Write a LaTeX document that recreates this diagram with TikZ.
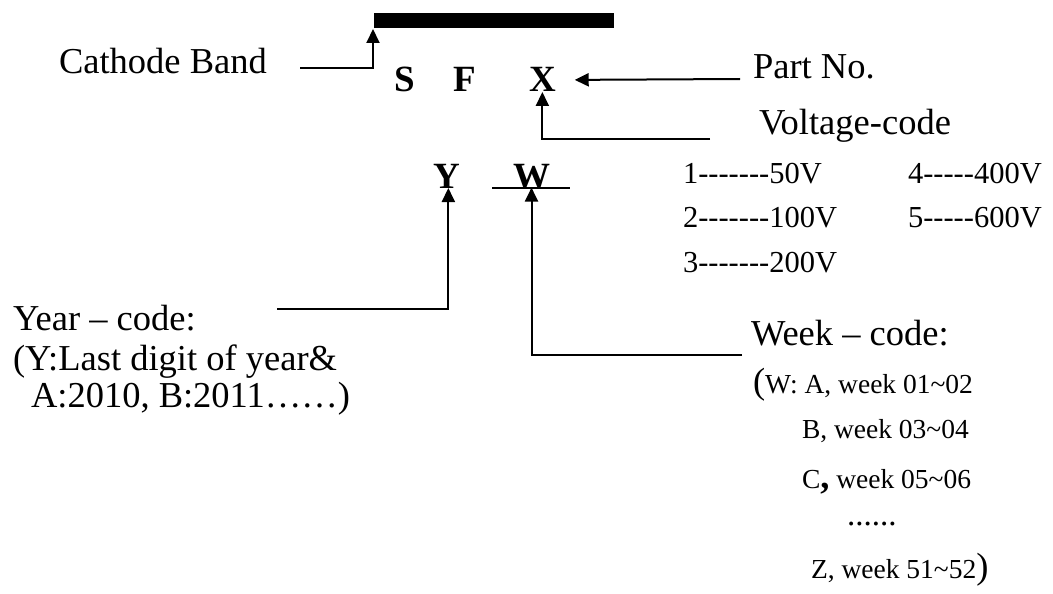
\documentclass[tikz,border=0pt]{standalone}
\usepackage{fontspec}
\setmainfont{Liberation Serif}
\usetikzlibrary{arrows.meta}

\begin{document}
\begin{tikzpicture}[x=1pt, y=-1pt, line width=2pt,
  every node/.style={anchor=base west, inner sep=0pt},
  big/.style={font=\fontsize{36.5}{40}\selectfont},
  mid/.style={font=\fontsize{30.5}{34}\selectfont},
  small/.style={font=\fontsize{27.5}{30}\selectfont},
  code/.style={font=\fontsize{37}{40}\selectfont\bfseries},
  pointer/.style={-{Triangle[length=14pt,width=13pt]}}]
  \useasboundingbox (0,0) rectangle (1053,594);

  % band and marking
  \node[fill=black, minimum width=240pt, minimum height=15pt, anchor=north west] (band) at (373,12) {};
  \node[code] (S) at (393,92) {S};
  \node[code] (F) at (452,92) {F};
  \node[code] (X) at (528,92) {X};
  \node[code] (Y) at (432,188) {Y};
  \node[code] (W) at (512,188) {W};
  \draw ([xshift=-20pt]W.base west) -- ([xshift=19pt]W.base east);

  % labels
  \node[big] (cathode) at (58,74) {Cathode Band};
  \node[big] (partno) at (752,78) {Part No.};
  \node[big] (voltage) at (758,135) {Voltage-code};
  \node[mid] (v1) at (682,183) {1-{}-{}-{}-{}-{}-{}-50V};
  \node[mid] (v2) at (682,227) {2-{}-{}-{}-{}-{}-{}-100V};
  \node[mid] (v3) at (682,272) {3-{}-{}-{}-{}-{}-{}-200V};
  \node[mid] (v4) at (907,183) {4-{}-{}-{}-{}-400V};
  \node[mid] (v5) at (907,227) {5-{}-{}-{}-{}-600V};

  \node[big] (year) at (12,330) {Year – code:};
  \node[big] (ynote) at (12,370) {(Y:Last digit of year\&};
  \node[big] (yrange) at (30,407) {A:2010, B:2011……)};

  \node[big] (week) at (750,345) {Week – code:};
  \node[small] (wa) at (752,393) {{\fontsize{36.5}{40}\selectfont(}W: A, week 01\textasciitilde02};
  \node[small] (wb) at (801,438) {B, week 03\textasciitilde04};
  \node[small] (wc) at (801,488) {C{\fontsize{36.5}{40}\selectfont\bfseries,} week 05\textasciitilde06};
  \node[small, font=\fontsize{33}{36}\selectfont] (wdots) at (846,525) {......};
  \node[small] (wz) at (810,578) {Z, week 51\textasciitilde52{\fontsize{36.5}{40}\selectfont)}};

  % pointers
  \coordinate (cend) at (300,68);
  \coordinate (pend) at (740,79);
  \coordinate (vend) at (710,139);
  \coordinate (yend) at (277,309);
  \coordinate (wend) at (742,355);
  \draw[pointer] (cend) -| (band.south west);
  \draw[pointer] (pend) -- ([xshift=18pt]X.east);
  \draw[pointer] (vend) -| ([yshift=1pt]X.south);
  \draw[pointer] (yend) -| ([xshift=2pt,yshift=1pt]Y.south);
  \draw[pointer] (wend) -| ([yshift=2pt]W.south);
\end{tikzpicture}
\end{document}
